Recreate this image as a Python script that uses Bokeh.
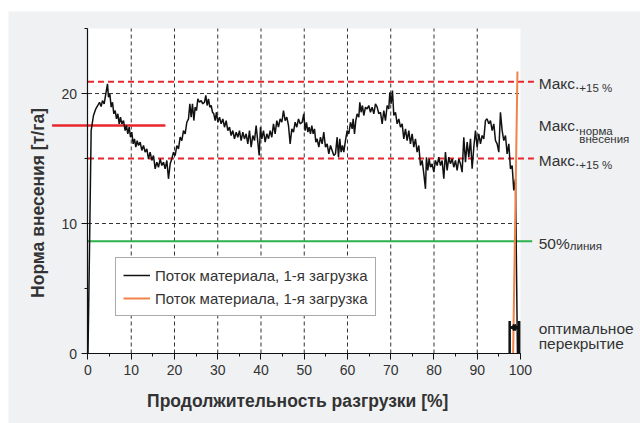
import math
from bokeh.plotting import figure
from bokeh.models import (LinearAxis, SingleIntervalTicker, Legend, LegendItem,
                          Arrow, NormalHead, Range1d)
from bokeh.core.properties import value
from bokeh.embed import file_html
from bokeh.resources import INLINE

# ---------------- data ----------------
flow_x = [0, 0.35, 0.73, 1.27, 1.81, 2.27, 2.66, 3.04, 3.35, 3.74, 4.12, 4.51, 4.74, 5.05,
          5.36, 5.67, 5.97, 6.28, 6.59, 6.90, 7.21, 7.51, 7.82, 8.21, 8.59, 8.90, 9.21,
          9.52, 9.83, 10.13, 10.44, 10.75, 11.06, 11.37, 11.68, 12.06, 12.45, 12.83, 13.22,
          13.6, 13.99, 14.37, 14.76, 15.14, 15.53, 15.92, 16.3, 16.69, 17.07, 17.46, 17.84,
          18.23, 18.61, 19.0, 19.38, 19.77, 20.15, 20.54, 20.92, 21.31, 21.7, 22.08, 22.47,
          22.85, 23.24, 23.55, 23.85, 24.16, 24.47, 24.78, 25.09, 25.4, 25.78, 26.17, 26.55,
          26.94, 27.24, 27.55, 27.86, 28.17, 28.48, 28.79, 29.09, 29.4, 29.71, 30.02, 30.41,
          30.79, 31.18, 31.56, 31.95, 32.33, 32.72, 33.1, 33.49, 33.87, 34.26, 34.64, 35.03,
          35.41, 35.8, 36.18, 36.57, 36.95, 37.34, 37.73, 38.11, 38.5, 38.88, 39.27, 39.58,
          39.88, 40.19, 40.58, 40.96, 41.35, 41.73, 42.12, 42.5, 42.89, 43.27, 43.66, 44.04,
          44.43, 44.82, 45.2, 45.59, 45.97, 46.36, 46.74, 47.13, 47.51, 47.9, 48.28, 48.67,
          49.06, 49.52, 49.9, 50.21, 50.52, 50.83, 51.13, 51.44, 51.75, 52.06, 52.37, 52.68,
          52.98, 53.37, 53.75, 54.14, 54.52, 54.91, 55.30, 55.68, 56.07, 56.45, 56.84, 57.22,
          57.61, 57.92, 58.22, 58.53, 58.84, 59.15, 59.53, 59.92, 60.31, 60.69, 61.08, 61.31,
          61.62, 61.92, 62.23, 62.62, 62.85, 63.16, 63.46, 63.77, 64.16, 64.54, 64.93, 65.31,
          65.7, 66.09, 66.47, 66.86, 67.24, 67.63, 68.01, 68.4, 68.78, 69.17, 69.55, 69.79,
          70.09, 70.4, 70.71, 71.1, 71.48, 71.87, 72.25, 72.64, 73.02, 73.41, 73.79, 74.18,
          74.56, 74.95, 75.33, 75.72, 76.1, 76.49, 76.88, 77.26, 77.65, 78.03, 78.26, 78.57,
          78.88, 79.19, 79.57, 79.96, 80.34, 80.73, 81.11, 81.5, 81.88, 82.27, 82.65, 83.04,
          83.43, 83.81, 84.2, 84.58, 84.97, 85.35, 85.74, 86.12, 86.51, 86.89, 87.28, 87.67,
          88.05, 88.44, 88.82, 89.21, 89.59, 89.98, 90.36, 90.75, 91.13, 91.52, 91.9, 92.29,
          92.67, 93.06, 93.45, 93.83, 94.22, 94.6, 94.99, 95.37, 95.76, 96.14, 96.53, 96.91,
          97.3, 97.68, 98.07, 98.45, 98.84, 99.3]
flow_y = [0, 8.0, 17.15, 18.31, 18.82, 19.08, 19.33, 19.0, 19.46, 19.21, 19.97, 20.74, 19.72,
          19.97, 18.95, 19.33, 18.44, 18.69, 18.05, 18.44, 17.67, 18.18, 17.67, 17.92, 17.15,
          17.54, 16.9, 17.41, 16.64, 17.03, 16.13, 16.51, 15.87, 16.38, 16.0, 16.26, 15.62,
          16.0, 15.49, 15.74, 14.97, 15.49, 14.85, 15.23, 14.21, 14.72, 14.33, 14.97, 14.46,
          14.72, 14.21, 14.85, 13.44, 14.59, 14.97, 15.49, 15.23, 16.0, 15.74, 16.64, 16.38,
          17.15, 16.9, 17.79, 18.05, 19.21, 18.18, 19.21, 17.92, 18.95, 18.69, 19.59, 19.33,
          19.46, 19.21, 19.33, 19.85, 19.08, 19.59, 18.95, 19.08, 18.56, 18.44, 17.92, 18.56,
          17.79, 18.18, 17.67, 18.05, 17.41, 17.92, 17.15, 17.41, 16.77, 17.15, 16.51, 17.03,
          16.64, 17.15, 16.38, 17.03, 16.51, 16.9, 16.13, 17.15, 15.87, 16.77, 16.38, 17.54,
          16.26, 15.23, 17.41, 16.51, 17.15, 16.26, 16.9, 16.51, 17.15, 16.64, 17.67, 16.9,
          17.92, 17.41, 18.05, 17.79, 18.69, 17.92, 18.18, 17.54, 16.13, 17.28, 17.03, 17.79,
          17.41, 18.05, 17.67, 17.79, 18.44, 17.15, 17.79, 17.03, 17.41, 16.9, 17.54, 16.9,
          17.28, 16.26, 16.51, 15.87, 16.64, 16.13, 17.03, 15.87, 16.13, 15.36, 16.0, 15.62,
          15.23, 15.36, 16.64, 15.10, 16.51, 15.49, 16.0, 15.49, 16.38, 17.15, 16.9, 17.79,
          17.28, 18.05, 16.9, 17.92, 18.44, 18.18, 19.33, 18.56, 19.08, 18.31, 18.95, 18.82,
          19.08, 18.56, 18.95, 18.44, 19.21, 18.95, 18.44, 18.56, 17.67, 18.69, 17.92, 19.08,
          18.82, 20.1, 19.21, 20.23, 18.31, 18.56, 17.67, 18.05, 17.41, 17.67, 16.51, 17.28,
          16.38, 17.15, 16.13, 16.9, 15.87, 16.51, 15.49, 16.0, 14.46, 14.85, 13.82, 12.67,
          15.10, 14.08, 14.97, 14.33, 14.59, 13.95, 14.85, 14.46, 15.10, 14.46, 14.85, 13.44,
          15.49, 14.08, 15.10, 14.59, 14.97, 14.33, 14.85, 14.08, 14.97, 14.59, 13.95, 16.64,
          14.72, 16.26, 15.10, 16.51, 14.21, 15.87, 17.15, 15.87, 16.9, 16.13, 16.77, 16.51,
          17.92, 18.05, 17.67, 17.92, 17.15, 17.67, 16.38, 16.13, 15.49, 18.56, 17.15, 16.38,
          16.77, 15.36, 16.13, 14.21, 14.46, 12.54, 13.44, 0]

orange_x = [98.3, 99.3]
orange_y = [0, 21.7]

max_upper = 20.9
max_lower = 15.0
rate_mean = 17.54
rate_mean_x = [-8.3, 17.9]
line_50 = 8.64
overlap_x = [97.5, 99.7]
overlap_top = 2.5
overlap_arrow_y = 2.0

x_grid = [10, 20, 30, 40, 50, 60, 70, 80, 90]
y_grid = [10, 20]
X_MIN, X_MAX = 0, 100
Y_MIN, Y_MAX = 0, 25
RIGHT_EXT = 103.1
GREEN_EXT = 102.7

legend_labels = ["Поток материала, 1-я загрузка", "Поток материала, 1-я загрузка"]

FONT = "Liberation Sans"
TXT = "#333333"

# ---------------- figure ----------------
p = figure(width=640, height=423,
           x_range=Range1d(-18.38, 127.75), y_range=Range1d(-5.385, 26.31),
           output_backend="svg", toolbar_location=None,
           x_axis_location=None, y_axis_location=None,
           min_border=0, min_border_top=11, min_border_left=8,
           background_fill_color="#f0f1f3", border_fill_color="white",
           outline_line_color=None)
p.grid.visible = False

# white plot area
p.quad(left=[X_MIN], right=[X_MAX], bottom=[Y_MIN], top=[Y_MAX],
       fill_color="white", line_color=None)

# grid
p.segment(x0=x_grid, x1=x_grid, y0=[Y_MIN] * len(x_grid), y1=[Y_MAX] * len(x_grid),
          line_color="#333333", line_width=1, line_dash="4 3")
p.segment(x0=[X_MIN] * len(y_grid), x1=[X_MAX] * len(y_grid), y0=y_grid, y1=y_grid,
          line_color="#333333", line_width=1, line_dash="4 3")

# reference lines
p.segment(x0=[X_MIN, X_MIN], x1=[RIGHT_EXT, RIGHT_EXT], y0=[max_upper, max_lower],
          y1=[max_upper, max_lower], line_color="#e8262c", line_width=2, line_dash="6 4")
p.segment(x0=[rate_mean_x[0]], x1=[rate_mean_x[1]], y0=[rate_mean], y1=[rate_mean],
          line_color="#e8262c", line_width=2.5)
p.segment(x0=[X_MIN], x1=[GREEN_EXT], y0=[line_50], y1=[line_50],
          line_color="#2bb24c", line_width=2)

# curves
r_black = p.line(flow_x, flow_y, line_color="#111111", line_width=1.5)
r_orange = p.line(orange_x, orange_y, line_color="#f08448", line_width=2)

# overlap marker
p.segment(x0=overlap_x, x1=overlap_x, y0=[Y_MIN, Y_MIN], y1=[overlap_top, overlap_top],
          line_color="#111111", line_width=2.5)
p.add_layout(Arrow(start=NormalHead(size=6, fill_color="#111111", line_color="#111111"),
                   end=NormalHead(size=6, fill_color="#111111", line_color="#111111"),
                   x_start=overlap_x[0], x_end=overlap_x[1],
                   y_start=overlap_arrow_y, y_end=overlap_arrow_y,
                   line_color="#111111", line_width=1.5))

# axes
yax = LinearAxis(fixed_location=0, bounds=(Y_MIN, Y_MAX),
                 ticker=SingleIntervalTicker(interval=10, num_minor_ticks=2))
xax = LinearAxis(fixed_location=0, bounds=(X_MIN, X_MAX),
                 ticker=SingleIntervalTicker(interval=10, num_minor_ticks=2))
for ax in (xax, yax):
    ax.axis_line_color = "#111111"
    ax.axis_line_width = 1.2
    ax.major_tick_line_color = "#111111"
    ax.minor_tick_line_color = "#111111"
    ax.major_tick_in = 0
    ax.major_tick_out = 6
    ax.minor_tick_in = 0
    ax.minor_tick_out = 3
    ax.major_label_text_font = FONT
    ax.major_label_text_font_size = "14px"
    ax.major_label_text_color = TXT
    ax.major_label_standoff = 5
p.add_layout(yax, "left")
p.add_layout(xax, "below")

# axis titles
p.text(x=[48.5], y=[-3.62], text=["Продолжительность разгрузки [%]"],
       text_font=value(FONT), text_font_style="bold", text_font_size="17.5px",
       text_color=TXT, text_align="center", text_baseline="middle")
p.text(x=[-11.45], y=[11.58], text=["Норма внесения [т/га]"], angle=math.pi / 2,
       text_font=value(FONT), text_font_style="bold", text_font_size="17.5px",
       text_color=TXT, text_align="center", text_baseline="middle")

# right labels
p.text(x=[104.2, 104.2, 104.2, 104.2], y=[20.79, 17.54, 14.85, 8.48],
       text=["Макс.", "Макс.", "Макс.", "50%"],
       text_font=value(FONT), text_font_size="15.5px", text_color=TXT,
       text_align="left", text_baseline="middle")
p.text(x=[113.6, 113.6, 113.6, 113.6, 111.4], y=[20.42, 17.15, 16.5, 14.5, 8.27],
       text=["+15 %", "норма", "внесения", "+15 %", "линия"],
       text_font=value(FONT), text_font_size="11.5px", text_color=TXT,
       text_align="left", text_baseline="middle")
p.text(x=[104.2, 104.2], y=[1.95, 0.77], text=["оптимальное", "перекрытие"],
       text_font=value(FONT), text_font_size="15.5px", text_color=TXT,
       text_align="left", text_baseline="middle")

# legend
legend = Legend(items=[LegendItem(label=legend_labels[0], renderers=[r_black]),
                       LegendItem(label=legend_labels[1], renderers=[r_orange])],
                location=(107, 107), orientation="vertical",
                label_text_font=FONT, label_text_font_size="15px", label_text_color=TXT,
                glyph_width=27, glyph_height=20, spacing=3, padding=7, margin=0,
                label_standoff=5, border_line_color="#555555", border_line_width=1,
                background_fill_color="white", background_fill_alpha=1)
p.add_layout(legend, "center")

open("out.html", "w").write(file_html(p, INLINE))
